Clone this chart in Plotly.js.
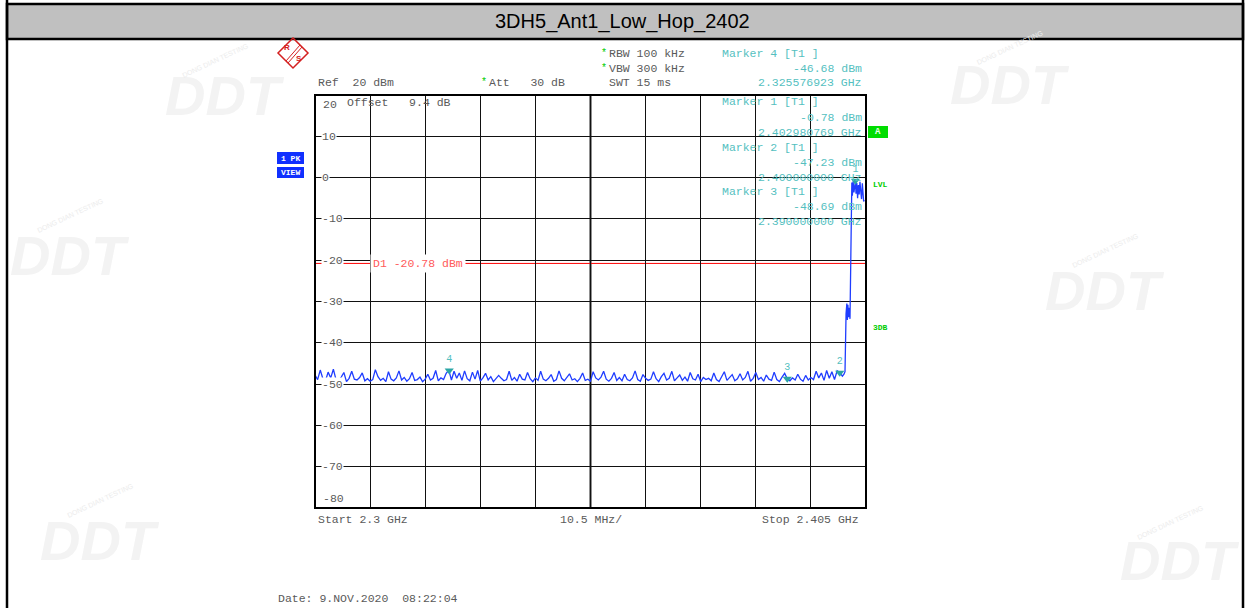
<!DOCTYPE html>
<html><head><meta charset="utf-8">
<script src="https://cdn.plot.ly/plotly-3.0.1.min.js"></script>
<style>html,body{margin:0;padding:0;background:#fff}#chart{width:1245px;height:608px}</style>
</head><body><div id="chart"></div>
<script>
// ---- data ----
const chartTitle = "3DH5_Ant1_Low_Hop_2402";
const noiseFreqMHz = [
2300.0,2300.5,2301.0,2301.5,2302.0,2302.5,2303.0,2303.5,2304.0,2304.5,
2305.0,2305.5,2306.0,2306.5,2307.0,2307.5,2308.0,2308.5,2309.0,2309.5,
2310.0,2310.5,2311.0,2311.5,2312.0,2312.5,2313.0,2313.5,2314.0,2314.5,
2315.0,2315.5,2316.0,2316.5,2317.0,2317.5,2318.0,2318.5,2319.0,2319.5,
2320.0,2320.5,2321.0,2321.5,2322.0,2322.5,2323.0,2323.5,2324.0,2324.5,
2325.0,2325.5,2326.0,2326.5,2327.0,2327.5,2328.0,2328.5,2329.0,2329.5,
2330.0,2330.5,2331.0,2331.5,2332.0,2332.5,2333.0,2333.5,2334.0,2334.5,
2335.0,2335.5,2336.0,2336.5,2337.0,2337.5,2338.0,2338.5,2339.0,2339.5,
2340.0,2340.5,2341.0,2341.5,2342.0,2342.5,2343.0,2343.5,2344.0,2344.5,
2345.0,2345.5,2346.0,2346.5,2347.0,2347.5,2348.0,2348.5,2349.0,2349.5,
2350.0,2350.5,2351.0,2351.5,2352.0,2352.5,2353.0,2353.5,2354.0,2354.5,
2355.0,2355.5,2356.0,2356.5,2357.0,2357.5,2358.0,2358.5,2359.0,2359.5,
2360.0,2360.5,2361.0,2361.5,2362.0,2362.5,2363.0,2363.5,2364.0,2364.5,
2365.0,2365.5,2366.0,2366.5,2367.0,2367.5,2368.0,2368.5,2369.0,2369.5,
2370.0,2370.5,2371.0,2371.5,2372.0,2372.5,2373.0,2373.5,2374.0,2374.5,
2375.0,2375.5,2376.0,2376.5,2377.0,2377.5,2378.0,2378.5,2379.0,2379.5,
2380.0,2380.5,2381.0,2381.5,2382.0,2382.5,2383.0,2383.5,2384.0,2384.5,
2385.0,2385.5,2386.0,2386.5,2387.0,2387.5,2388.0,2388.5,2389.0,2389.5,
2390.0,2390.5,2391.0,2391.5,2392.0,2392.5,2393.0,2393.5,2394.0,2394.5,
2395.0,2395.5,2396.0,2396.5,2397.0,2397.5,2398.0,2398.5,2399.0,2399.5,
2400.0,2400.5];
const noiseLevelDbm = [
-47.8,-48.9,-46.6,-48.7,-49.2,-47.1,-48.5,-46.4,-48.9,-49.1,
-48.3,-47.2,-49.4,-48.6,-46.9,-48.8,-49.0,-48.4,-47.3,-49.2,
-48.7,-49.3,-48.9,-46.5,-48.2,-49.1,-48.6,-49.4,-47.0,-48.8,
-49.2,-48.5,-46.8,-49.0,-48.4,-49.3,-48.7,-47.2,-49.1,-48.9,
-48.3,-49.4,-48.8,-47.6,-49.0,-48.6,-46.7,-49.2,-48.5,-48.9,
-47.4,-46.6,-49.0,-46.9,-48.6,-47.3,-49.1,-46.8,-48.7,-49.2,
-47.1,-48.8,-46.7,-49.3,-48.5,-47.4,-49.0,-48.2,-49.4,-48.7,
-47.9,-48.6,-49.2,-48.9,-46.9,-49.1,-48.4,-49.3,-47.6,-48.8,
-49.0,-47.2,-48.7,-49.4,-48.5,-49.1,-46.9,-48.8,-49.2,-48.6,
-47.7,-49.3,-48.9,-46.8,-48.6,-49.2,-48.4,-47.5,-49.0,-48.7,
-49.4,-48.6,-47.3,-49.1,-48.8,-49.3,-47.0,-48.5,-49.0,-48.3,
-46.9,-48.8,-49.3,-48.6,-47.2,-49.1,-48.4,-49.2,-47.6,-48.9,
-49.2,-48.5,-46.8,-48.9,-49.3,-47.7,-48.6,-49.1,-48.8,-47.0,
-48.7,-49.4,-48.2,-47.4,-49.0,-48.6,-46.9,-49.2,-48.5,-47.8,
-49.1,-48.3,-49.3,-47.2,-48.7,-49.0,-47.6,-49.4,-48.4,-48.9,
-48.6,-49.2,-47.3,-48.9,-49.4,-48.1,-47.0,-49.1,-48.5,-47.7,
-49.2,-48.7,-47.5,-49.0,-48.4,-46.9,-49.3,-48.6,-47.2,-48.9,
-48.4,-49.3,-47.8,-48.8,-49.1,-47.1,-48.9,-49.4,-48.3,-47.4,
-48.7,-49.2,-48.5,-49.0,-47.6,-48.8,-49.3,-47.9,-49.0,-48.4,
-48.9,-46.9,-48.5,-47.3,-49.1,-46.7,-48.6,-47.0,-48.9,-46.8,
-47.2,-48.1];
const signalFreqMHz = [2400.8,2401.0,2401.2,2401.35,2401.45,2401.55,2401.65,2401.8,2401.95,2402.1,2402.2,2402.3,2402.4,2402.55,2402.7,2402.85,2402.98,2403.1,2403.25,2403.4,2403.55,2403.7,2403.85,2404.0,2404.15,2404.3,2404.45,2404.55,2404.65];
const signalLevelDbm = [-47.6,-47.0,-33.0,-30.5,-34.5,-30.8,-33.8,-31.5,-34.2,-20.0,-2.5,-1.2,-4.4,-0.9,-3.6,-1.4,-0.78,-3.9,-1.3,-5.0,-1.8,-4.1,-1.0,-3.3,-5.2,-1.4,-4.6,-5.8,-5.4];
const markerLabels = ["1","2","3","4"];
const markerFreqMHz = [2402.980769, 2400.0, 2390.0, 2325.576923];
const markerLevelDbm = [-0.78, -47.23, -48.69, -46.68];
const displayLineDbm = -20.78;
const yTickValues = [10,0,-10,-20,-30,-40,-50,-60,-70];
const xStartMHz = 2300, xStopMHz = 2405, xDivMHz = 10.5;
const yBottom = -80, yTop = 20, yDiv = 10;

// ---- geometry helpers (pixel -> paper) ----
const L = 315, R = 866, T = 95, B = 508;
const px = p => (p - L) / (R - L);
const py = p => (B - p) / (B - T);
const MONO = "Liberation Mono, Courier New, monospace";
const SANS = "Liberation Sans, Arial, sans-serif";
const GRAY = "#5a5a5a", TEAL = "#55bfbf", GREEN = "#00cc00";

function txt(text, x, y, color, opt) {
  opt = opt || {};
  const a = {xref:"paper", yref:"paper", x:px(x), y:py(y), text:text, showarrow:false,
    xanchor:opt.xa || "left", yanchor:"middle",
    font:{family:opt.family || MONO, size:opt.size || 11.5, color:color}};
  if (opt.bg) { a.bgcolor = opt.bg; a.borderpad = opt.pad || 1; }
  if (opt.angle !== undefined) a.textangle = opt.angle;
  return a;
}
function rect(x0,y0,x1,y1,fill,line,lw) {
  return {type:"rect", xref:"paper", yref:"paper", x0:px(x0), x1:px(x1), y0:py(y0), y1:py(y1),
    fillcolor:fill || "rgba(0,0,0,0)", line:{color:line || "rgba(0,0,0,0)", width:lw || 0}, layer:"above"};
}
function seg(x0,y0,x1,y1,color,w) {
  return {type:"line", xref:"paper", yref:"paper", x0:px(x0), x1:px(x1), y0:py(y0), y1:py(y1),
    line:{color:color, width:w}, layer:"above"};
}

const traces = [
  {x: noiseFreqMHz.concat(signalFreqMHz), y: noiseLevelDbm.concat(signalLevelDbm),
   type:"scatter", mode:"lines", line:{color:"#1f3dff", width:1.3}, hoverinfo:"skip"},
  {x: markerFreqMHz, y: markerLevelDbm, type:"scatter", mode:"markers+text",
   text: markerLabels, textposition:"top center",
   textfont:{family:MONO, size:10, color:TEAL},
   marker:{symbol:"triangle-down", size:8, color:"#2aa5a5"}, hoverinfo:"skip", cliponaxis:false}
];

const annotations = [];
// watermarks (very faint)
const wm = [[225,95,215,60],[70,255,70,215],[1010,85,1010,48],[1105,290,1105,250],[100,540,100,500],[1180,560,1170,522]];
wm.forEach(w => {
  annotations.push(txt("<b><i>DDT</i></b>", w[0], w[1], "#f3f3f3", {family:SANS, size:56, xa:"center"}));
  annotations.push(txt("DONG DIAN TESTING", w[2], w[3], "#ececec", {family:SANS, size:7, xa:"center", angle:-25}));
});
// title
annotations.push(txt(chartTitle, 622, 22, "#000", {family:SANS, size:20, xa:"center"}));
// header texts
annotations.push(txt("Ref  20 dBm", 316, 83, GRAY));
annotations.push(txt("*", 479, 83, GREEN, {size:10}));
annotations.push(txt("Att   30 dB", 487, 83, GRAY));
annotations.push(txt("*", 599, 53, GREEN, {size:10}));
annotations.push(txt("RBW 100 kHz", 607, 53, GRAY));
annotations.push(txt("*", 599, 68, GREEN, {size:10}));
annotations.push(txt("VBW 300 kHz", 607, 68, GRAY));
annotations.push(txt("SWT 15 ms", 607, 83, GRAY));
// marker table
const mt = [
  ["Marker 4 [T1 ]", "-46.68 dBm", "2.325576923 GHz", 53],
  ["Marker 1 [T1 ]", "-0.78 dBm", "2.402980769 GHz", 102],
  ["Marker 2 [T1 ]", "-47.23 dBm", "2.400000000 GHz", 147],
  ["Marker 3 [T1 ]", "-48.69 dBm", "2.390000000 GHz", 191]
];
mt.forEach(m => {
  annotations.push(txt(m[0], 720, m[3], TEAL));
  annotations.push(txt(m[1], 864, m[3]+15, TEAL, {xa:"right"}));
  annotations.push(txt(m[2], 864, m[3]+30, TEAL, {xa:"right"}));
});
// offset and y labels
annotations.push(txt("20", 321, 104, GRAY));
annotations.push(txt("Offset   9.4 dB", 345, 103, GRAY));
yTickValues.forEach(v => {
  annotations.push({xref:"paper", yref:"y", x:px(321), y:v, text:String(v), showarrow:false,
    xanchor:"left", yanchor:"middle", bgcolor:"#fff", borderpad:0,
    font:{family:MONO, size:11.5, color:GRAY}});
});
annotations.push(txt("-80", 321, 498, GRAY));
// display line label
annotations.push({xref:"paper", yref:"y", x:px(370), y:displayLineDbm, text:"D1 -20.78 dBm",
  showarrow:false, xanchor:"left", yanchor:"middle", bgcolor:"#fff", borderpad:2,
  font:{family:MONO, size:11.5, color:"#ff5a5a"}});
// bottom texts
annotations.push(txt("Start 2.3 GHz", 316, 519, GRAY));
annotations.push(txt("10.5 MHz/", 591, 519, GRAY, {xa:"center"}));
annotations.push(txt("Stop 2.405 GHz", 861, 519, GRAY, {xa:"right"}));
annotations.push(txt("Date: 9.NOV.2020  08:22:04", 276, 598, GRAY));
// side labels
annotations.push(txt("<b>A</b>", 878, 132, "#e8ffe8", {size:9, xa:"center"}));
annotations.push(txt("<b>LVL</b>", 871, 184, GREEN, {size:8}));
annotations.push(txt("<b>3DB</b>", 871, 327, GREEN, {size:8}));
annotations.push(txt("<b>1 PK</b>", 290.5, 158, "#fff", {size:8, xa:"center"}));
annotations.push(txt("<b>VIEW</b>", 290.5, 172.5, "#fff", {size:8, xa:"center"}));
// R&S logo letters
annotations.push(txt("<b>R</b>", 287, 48, "#d42020", {family:SANS, size:8, xa:"center"}));
annotations.push(txt("<b>S</b>", 299, 59, "#d42020", {family:SANS, size:8, xa:"center"}));

const shapes = [
  // frame & title band
  rect(7, 4, 1243, 39, "#c0c0c0", "#000", 2.5),
  seg(7, 0, 7, 608, "#000", 2.5),
  seg(1243, 0, 1243, 608, "#000", 2.5),
  // plot border
  rect(L, T, R, B, null, "#000", 2),
  // center line thicker
  {type:"line", xref:"x", yref:"paper", x0:(xStartMHz+xStopMHz)/2, x1:(xStartMHz+xStopMHz)/2, y0:0, y1:1,
   line:{color:"#222", width:2}, layer:"below"},
  // display line D1
  {type:"line", xref:"paper", yref:"y", x0:0, x1:1, y0:displayLineDbm, y1:displayLineDbm,
   line:{color:"#ff0000", width:1}, layer:"below"},
  // A box
  rect(868, 126, 888, 138, "#00dd00"),
  // 1 PK VIEW boxes
  rect(277, 152, 304, 164, "#1030ff"),
  rect(277, 167, 304, 178, "#1030ff"),
  // R&S diamond
  {type:"path", xref:"paper", yref:"paper", layer:"above",
   path:`M ${px(293)} ${py(38)} L ${px(308)} ${py(53)} L ${px(293)} ${py(68)} L ${px(278)} ${py(53)} Z`,
   line:{color:"#d42020", width:1.5}},
  seg(300, 45, 286, 61, "#d42020", 1),
  seg(302, 47, 288, 63, "#d42020", 1)
];

const layout = {
  width:1245, height:608, margin:{l:L, r:1245-R, t:T, b:608-B},
  paper_bgcolor:"#fff", plot_bgcolor:"#fff", showlegend:false,
  xaxis:{range:[xStartMHz, xStopMHz], tick0:xStartMHz, dtick:xDivMHz, showgrid:true, gridcolor:"#111", gridwidth:1,
    showticklabels:false, ticks:"", zeroline:false, showline:false, fixedrange:true},
  yaxis:{range:[yBottom, yTop], tick0:yBottom, dtick:yDiv, showgrid:true, gridcolor:"#111", gridwidth:1,
    showticklabels:false, ticks:"", zeroline:false, showline:false, fixedrange:true},
  annotations: annotations, shapes: shapes
};
Plotly.newPlot("chart", traces, layout, {staticPlot:true, displayModeBar:false});
</script>
</body></html>
